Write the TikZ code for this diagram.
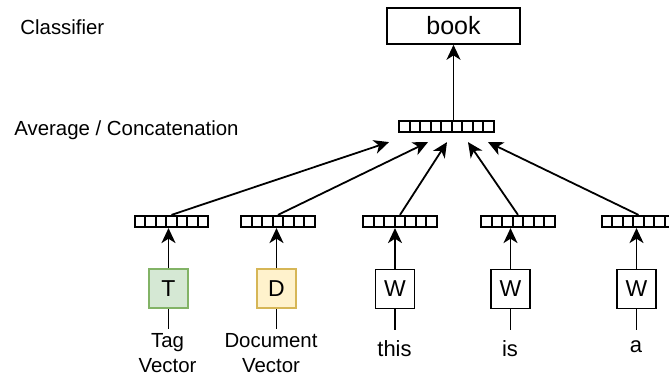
\documentclass[tikz,border=0pt]{standalone}
\usepackage{fontspec}
\setmainfont{Liberation Sans}
\usetikzlibrary{positioning, arrows.meta, calc}

\definecolor{tagfill}{HTML}{D5E8D4}
\definecolor{tagdraw}{HTML}{82B366}
\definecolor{docfill}{HTML}{FFF2CC}
\definecolor{docdraw}{HTML}{D6B656}

\begin{document}
\begin{tikzpicture}[x=0.5pt, y=-0.5pt,
	vecbar/.style={draw, line width=1.1pt, fill=white, inner sep=0pt, minimum height=5.5pt, minimum width=#1*5.25pt,
		path picture={\foreach \k in {1,...,#1} {\draw[line width=0.9pt] ($(path picture bounding box.south west)!{\k/#1}!(path picture bounding box.south east)$) -- ($(path picture bounding box.north west)!{\k/#1}!(path picture bounding box.north east)$);}}},
	wordbox/.style={draw, line width=0.8pt, fill=white, minimum size=19.5pt, inner sep=0pt, font=\fontsize{11.5}{14}\selectfont},
	sidetext/.style={anchor=west, inner sep=0pt, font=\fontsize{10.2}{12.5}\selectfont},
	wordtext/.style={anchor=north, inner xsep=1pt, align=center, font=\fontsize{#1}{12.5}\selectfont},
	conn/.style={line width=0.9pt, -{Stealth[length=7.5pt, width=7pt, inset=2.2pt]}},
	link/.style={line width=0.9pt}]
	
	\clip (0,0) rectangle (669,378);
	
	% Side captions
	\node[sidetext] (cls) at (20,27) {Classifier};
	\node[sidetext] (avg) at (14,130) {Average / Concatenation};
	
	% Classifier and aggregated vector
	\node[draw, line width=0.8pt, minimum width=66.5pt, minimum height=18pt, font=\fontsize{12.5}{15}\selectfont] (book) at (453.5,26) {book};
	\node[vecbar=9] (agg) at (446.5,126.5) {};
	\draw[conn] (agg.north -| book.south) -- (book.south);
	
	% Input vectors
	\node[vecbar=7] (vt) at (171.5,221.5) {};
	\node[vecbar=7] (vd) at (278,221.5) {};
	\node[vecbar=7] (vw1) at (400,221.5) {};
	\node[vecbar=7] (vw2) at (518,221.5) {};
	\node[vecbar=7] (vw3) at (638.5,221.5) {};
	
	\draw[conn] (vt.north) -- ($(agg.south)+(-57.5,9)$);
	\draw[conn] (vd.north) -- ($(agg.south)+(-18.5,9)$);
	\draw[conn] (vw1.north) -- ($(agg.south)+(0.5,9)$);
	\draw[conn] (vw2.north) -- ($(agg.south)+(21.5,9)$);
	\draw[conn] (vw3.north) -- ($(agg.south)+(41.5,9)$);
	
	% Tag, document and word boxes
	\node[wordbox, fill=tagfill, draw=tagdraw] (t) at (168.5,288.5) {T};
	\node[wordbox, fill=docfill, draw=docdraw] (d) at (276.5,288.5) {D};
	\node[wordbox] (w1) at (395,289) {W};
	\node[wordbox] (w2) at (510.5,289) {W};
	\node[wordbox] (w3) at (636.5,289) {W};
	
	\draw[conn] (t.north) -- (t.north |- vt.south);
	\draw[conn] (d.north) -- (d.north |- vd.south);
	\draw[conn] (w1.north) -- (w1.north |- vw1.south);
	\draw[conn] (w2.north) -- (w2.north |- vw2.south);
	\draw[conn] (w3.north) -- (w3.north |- vw3.south);
	
	% Labels
	\node[wordtext=10.2, inner ysep=2pt] (tl) at (167.5,329) {Tag\\Vector};
	\node[wordtext=10.2, inner ysep=2pt] (dl) at (271,329) {Document\\Vector};
	\node[wordtext=11, inner ysep=5pt] (w1l) at (394.5,330) {this};
	\node[wordtext=11, inner ysep=5pt] (w2l) at (510,330) {is};
	\node[wordtext=11, inner ysep=5pt] (w3l) at (636,330) {a};
	
	\draw[link] (t.south) -- (t.south |- tl.north);
	\draw[link] (d.south) -- (d.south |- dl.north);
	\draw[link] (w1.south) -- (w1.south |- w1l.north);
	\draw[link] (w2.south) -- (w2.south |- w2l.north);
	\draw[link] (w3.south) -- (w3.south |- w3l.north);
	
\end{tikzpicture}
\end{document}
